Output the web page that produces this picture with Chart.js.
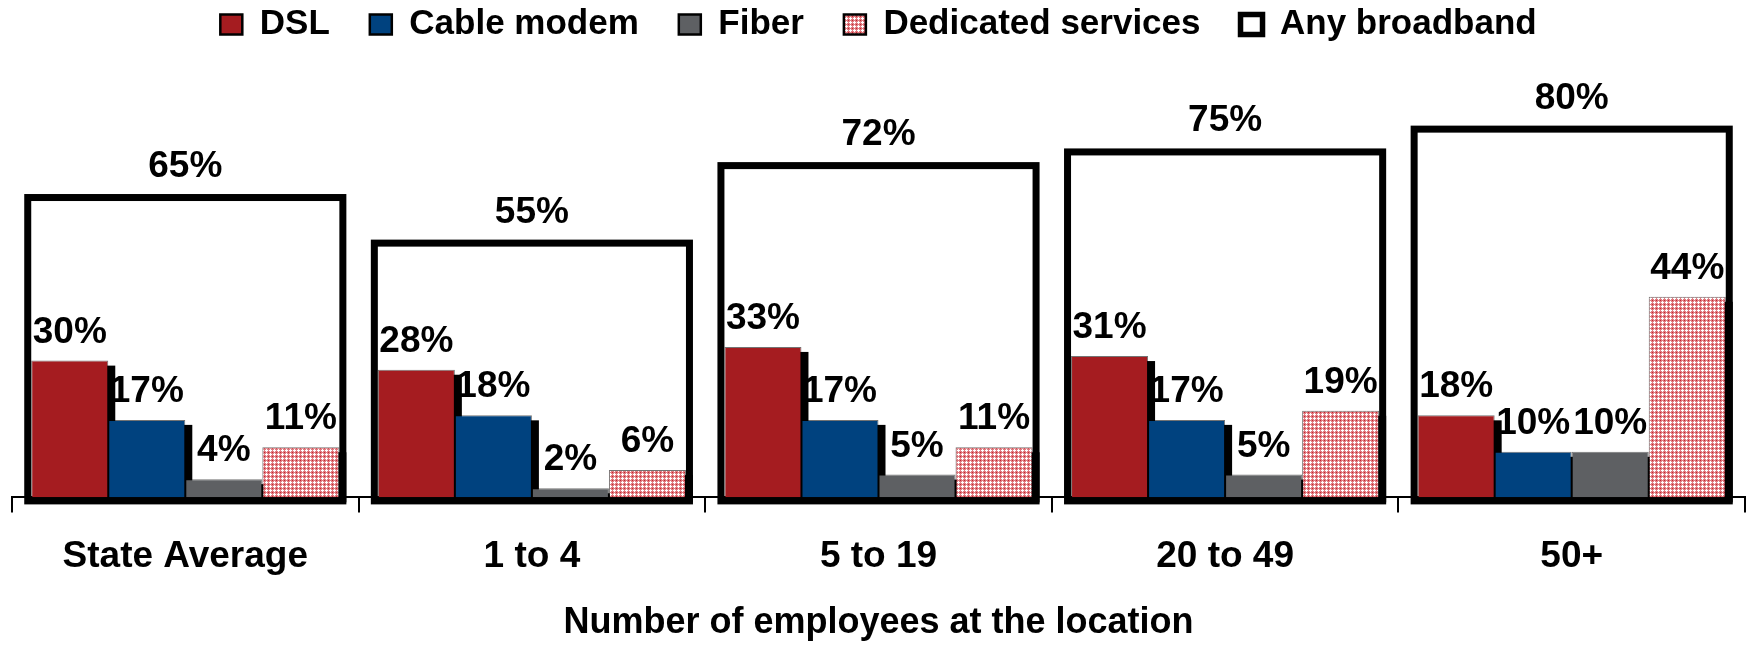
<!DOCTYPE html>
<html><head><meta charset="utf-8">
<script src="https://cdn.jsdelivr.net/npm/chart.js@4.4.1/dist/chart.umd.min.js"></script>
<style>html,body{margin:0;padding:0;background:#fff;}#wrap{width:1748px;height:645px;}</style>
</head><body><div id="wrap"><canvas id="c" width="1748" height="645"></canvas></div>
<script>
const categories = ['State Average', '1 to 4', '5 to 19', '20 to 49', '50+'];
const dslValues = [30, 28, 33, 31, 18];
const cableValues = [17, 18, 17, 17, 10];
const fiberValues = [4, 2, 5, 5, 10];
const dedicatedValues = [11, 6, 11, 19, 44];
const anyBroadbandValues = [65, 55, 72, 75, 80];
const seriesNames = ['DSL', 'Cable modem', 'Fiber', 'Dedicated services', 'Any broadband'];
const axisTitle = 'Number of employees at the location';

const FONT = '"Liberation Sans", Arial, sans-serif';
Chart.defaults.font.family = FONT;
Chart.defaults.color = '#000';

function makePattern() {
  const c = document.createElement('canvas');
  c.width = 4; c.height = 4;
  const g = c.getContext('2d');
  g.fillStyle = '#E07A80'; g.fillRect(0, 0, 4, 4);
  g.fillStyle = '#ffffff';
  g.fillRect(2, 1, 1, 3); g.fillRect(1, 2, 3, 1);
  g.fillStyle = '#C0282E'; g.fillRect(0, 0, 1, 1);
  return g.createPattern(c, 'repeat');
}
const pattern = makePattern();

const barBorder = 'rgba(0,0,0,0.55)';
function barSet(label, data, color) {
  return { label, data, backgroundColor: color, borderColor: barBorder, borderWidth: 1,
           categoryPercentage: 0.889, barPercentage: 1.0 };
}

const shadowPlugin = {
  id: 'barShadow',
  beforeDatasetsDraw(chart) {
    const ctx = chart.ctx;
    ctx.save();
    ctx.fillStyle = '#000';
    for (let i = 0; i < 4; i++) {
      chart.getDatasetMeta(i).data.forEach(el => {
        const p = el.getProps(['x', 'y', 'base', 'width'], true);
        ctx.fillRect(p.x - p.width / 2 + 7, p.y + 5, p.width, p.base - p.y);
      });
    }
    ctx.restore();
  }
};

const boxAndLabelPlugin = {
  id: 'boxLabels',
  afterDatasetsDraw(chart) {
    const ctx = chart.ctx;
    ctx.save();
    ctx.strokeStyle = '#000';
    ctx.lineWidth = 7;
    ctx.lineJoin = 'miter';
    chart.getDatasetMeta(4).data.forEach(el => {
      const p = el.getProps(['x', 'y', 'base', 'width'], true);
      ctx.strokeRect(p.x - p.width / 2 - 3.5, p.y - 3.5, p.width + 7, p.base - p.y + 7);
    });
    ctx.fillStyle = '#000';
    ctx.font = 'bold 37px ' + FONT;
    ctx.textAlign = 'center';
    ctx.textBaseline = 'alphabetic';
    chart.data.datasets.forEach((ds, i) => {
      chart.getDatasetMeta(i).data.forEach((el, j) => {
        const p = el.getProps(['x', 'y'], true);
        const off = i === 4 ? 24 : 18;
        ctx.fillText(ds.data[j] + '%', p.x, p.y - off);
      });
    });
    ctx.restore();
  }
};

new Chart(document.getElementById('c'), {
  type: 'bar',
  data: {
    labels: categories,
    datasets: [
      barSet(seriesNames[0], dslValues, '#A51C20'),
      barSet(seriesNames[1], cableValues, '#00427F'),
      barSet(seriesNames[2], fiberValues, '#5E6063'),
      barSet(seriesNames[3], dedicatedValues, pattern),
      { label: seriesNames[4], data: anyBroadbandValues, backgroundColor: 'rgba(0,0,0,0)',
        borderColor: '#000', borderWidth: 0, grouped: false,
        categoryPercentage: 0.889, barPercentage: 1.0 }
    ]
  },
  options: {
    responsive: false,
    animation: false,
    devicePixelRatio: 1,
    layout: { padding: { left: 12, right: 3, top: -33, bottom: 0 } },
    plugins: {
      tooltip: { enabled: false },
      legend: {
        position: 'top',
        maxHeight: 79,
        labels: {
          font: { size: 35, weight: 'bold' },
          color: '#000',
          boxWidth: 22,
          boxHeight: 20,
          padding: 40,
          sort: (a, b) => a.datasetIndex - b.datasetIndex,
          generateLabels: (chart) => {
            const items = Chart.defaults.plugins.legend.labels.generateLabels(chart);
            items.forEach(it => {
              it.strokeStyle = '#000';
              it.lineWidth = it.datasetIndex === 4 ? 5.5 : 2.5;
              if (it.datasetIndex === 4) it.fillStyle = '#fff';
            });
            return items;
          }
        }
      }
    },
    scales: {
      x: {
        offset: true,
        grid: { offset: true, display: true, drawOnChartArea: false, drawTicks: true,
                tickLength: 15, color: '#000', lineWidth: 2 },
        border: { display: true, color: '#000', width: 2 },
        ticks: { font: { size: 37, weight: 'bold' }, color: '#000', padding: 22,
                 maxRotation: 0, autoSkip: false },
        title: { display: true, text: axisTitle, font: { size: 36, weight: 'bold' },
                 color: '#000', padding: { top: 1, bottom: 0 } }
      },
      y: { display: false, min: 0, max: 99 }
    }
  },
  plugins: [shadowPlugin, boxAndLabelPlugin]
});
</script>
</body></html>
